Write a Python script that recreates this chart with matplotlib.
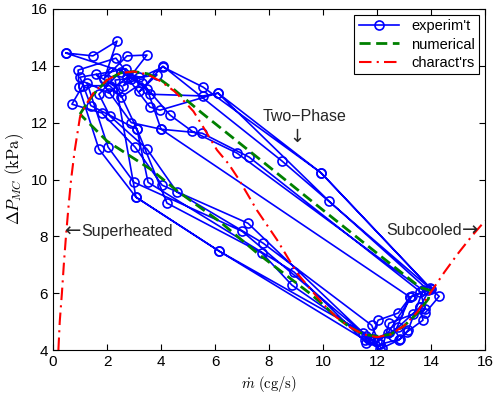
import matplotlib
matplotlib.use("Agg")
import matplotlib.pyplot as plt

plt.rcParams['font.family'] = ['Liberation Sans', 'DejaVu Sans']
plt.rcParams['mathtext.fontset'] = 'cm'

# characteristic curve (red dash-dot)
char_x = [0.2, 0.25, 0.33, 0.4, 0.48, 0.57, 0.67, 0.8, 1.0, 1.2, 1.5, 2.0, 2.5, 3.0, 3.5,
          4.0, 4.5, 4.81, 5.2, 5.56, 6.07, 6.5, 6.85, 7.55, 8.3, 9.04, 10.0, 10.5, 11.0,
          11.5, 12.0, 12.5, 13.0, 13.5, 14.0, 14.5, 15.0, 15.5, 16.0]
char_y = [4.0, 5.0, 6.0, 7.0, 8.0, 9.0, 10.0, 11.0, 12.2, 12.6, 13.05, 13.5, 13.75, 13.8, 13.7,
          13.45, 13.1, 12.8, 12.4, 11.85, 11.04, 10.55, 10.05, 8.92, 7.87, 6.7, 5.62, 5.15, 4.8,
          4.55, 4.45, 4.55, 4.85, 5.35, 6.05, 6.75, 7.4, 8.0, 8.55]

# numerical limit cycle (green dashed)
num_x = [1.0, 1.2, 1.5, 2.0, 2.5, 3.0, 3.5, 4.0, 4.5, 5.0, 5.5, 7.67, 9.5, 11.5, 13.6,
         13.96, 13.9, 13.5, 13.0, 12.5, 12.0, 11.5, 11.0, 10.5, 10.0, 9.5, 7.55, 6.2, 4.6,
         3.6, 2.0, 1.0]
num_y = [12.3, 12.6, 13.0, 13.5, 13.75, 13.8, 13.72, 13.5, 13.15, 12.75, 12.35, 10.7, 9.3, 7.78, 6.2,
         6.1, 5.8, 5.3, 4.85, 4.55, 4.48, 4.55, 4.8, 5.15, 5.6, 6.0, 7.42, 8.5, 9.6,
         10.37, 11.35, 12.3]

# experimental samples (blue, circles)
exp_x = [0.48, 1.48, 2.37, 1.9, 2.74, 3.48, 2.6, 4.07, 5.56, 9.93, 13.96, 13.59, 13.7, 13.1,
         12.81, 12.1, 11.56, 6.15, 3.07, 1.70, 0.96,
         0.93, 2.33, 2.9, 3.85, 3.2, 4.07, 8.48, 14.3, 13.78, 13.33, 12.44, 12.19, 11.48,
         7.0, 3.0, 2.04, 1.26,
         2.07, 2.74, 3.59, 3.96, 6.11, 10.22, 13.9, 13.22, 12.78, 12.04, 11.74, 11.6,
         7.22, 4.04, 3.04, 1.81, 0.70, 1.1,
         2.1, 2.52, 3.3, 4.33, 5.15, 6.81, 13.7, 13.15, 12.85, 12.1, 11.8, 7.78, 4.59,
         3.48, 2.11, 1.7,
         2.5, 3.48, 4.0, 5.52, 7.26, 13.6, 13.78, 13.59, 12.78, 12.0, 11.7, 8.85, 7.74,
         4.22, 3.11, 1.4, 1.0,
         2.2, 2.7, 3.6, 5.56, 6.11, 9.93, 14.0, 13.3, 12.4, 11.6, 8.93, 3.52, 3.11, 2.4,
         1.6, 2.9, 4.0, 13.22, 12.6, 11.9, 6.15, 3.07, 2.3, 3.2, 0.48]
exp_y = [14.45, 14.35, 14.87, 13.55, 14.35, 14.38, 13.3, 13.96, 13.25, 10.23, 6.18, 5.51, 5.05, 4.63,
         4.35, 4.03, 4.35, 7.48, 9.38, 11.07, 13.25,
         13.85, 14.27, 13.55, 13.68, 13.1, 13.99, 10.65, 5.89, 5.3, 5.26, 4.94, 4.06, 4.59,
         8.18, 9.9, 11.14, 13.4,
         13.04, 13.6, 12.55, 12.44, 13.04, 9.24, 6.1, 5.86, 5.3, 5.05, 4.35, 4.5,
         8.46, 9.8, 11.14, 12.34, 12.65, 13.3,
         13.3, 12.9, 13.4, 12.27, 11.7, 10.93, 6.1, 4.7, 4.38, 4.2, 4.87, 7.76, 9.56,
         11.07, 12.23, 13.0,
         13.8, 13.2, 11.77, 11.63, 10.79, 6.05, 5.44, 5.51, 4.8, 4.3, 4.4, 6.28, 7.41,
         9.17, 11.77, 12.6, 13.6,
         13.8, 13.9, 13.0, 12.94, 13.04, 10.23, 6.15, 5.9, 4.6, 4.25, 6.74, 9.9, 11.77, 13.2,
         13.7, 12.0, 11.77, 5.86, 4.5, 4.4, 7.48, 9.38, 13.5, 13.6, 14.45]

fig = plt.figure(figsize=(4.93, 4.0), dpi=100)
ax = fig.add_axes([0.1075, 0.125, 0.8765, 0.8525])

ax.plot(exp_x, exp_y, color='#0000ff', lw=1.2, marker='o', ms=6.5, mfc='none',
        mec='#0000ff', mew=1.2, label="experim't")
ax.plot(num_x, num_y, color='#008000', lw=2.0, ls=(0, (4, 2)), label='numerical')
ax.plot(char_x, char_y, color='#ff0000', lw=1.5, ls=(0, (6, 2.5, 1, 2.5)), label="charact'rs")

# annotations: arrows drawn in DejaVu Sans at a larger size so they come out long
arrow_font = ['DejaVu Sans']
txt = dict(fontsize=11.5, color='#262626')
ax.text(9.3, 12.23, 'Two\u2212Phase', ha='center', va='center', **txt)
ax.text(9.04, 11.5, '\u2193', ha='center', va='center', fontsize=13, family=arrow_font,
        color='#262626')
ax.text(0.42, 8.18, '\u2190', ha='left', va='center', fontsize=14, family=arrow_font,
        color='#262626')
ax.annotate('Superheated', (0.42, 8.18), xytext=(12, 0), textcoords='offset points',
            ha='left', va='center', **txt)
ax.text(15.75, 8.22, '\u2192', ha='right', va='center', fontsize=14, family=arrow_font,
        color='#262626')
ax.annotate('Subcooled', (15.75, 8.22), xytext=(-12, 0), textcoords='offset points',
            ha='right', va='center', **txt)

ax.set_xlim(0, 16)
ax.set_ylim(4, 16)
ax.set_xticks(range(0, 17, 2))
ax.set_yticks(range(4, 17, 2))
ax.tick_params(direction='in', top=True, right=True, labelsize=11, length=4)
ax.set_xlabel(r'$\dot{m}\ \mathrm{(cg/s)}$', fontsize=10.5)
ax.set_ylabel(r'$\Delta P_{MC}\ \mathrm{(kPa)}$', fontsize=12)

leg = ax.legend(loc='upper right', fontsize=10.5, fancybox=False, framealpha=1,
                edgecolor='black', borderpad=0.3, handlelength=2.8, labelspacing=0.3,
                borderaxespad=0.4)
leg.get_frame().set_linewidth(0.8)

fig.savefig('out.png', dpi=100)
